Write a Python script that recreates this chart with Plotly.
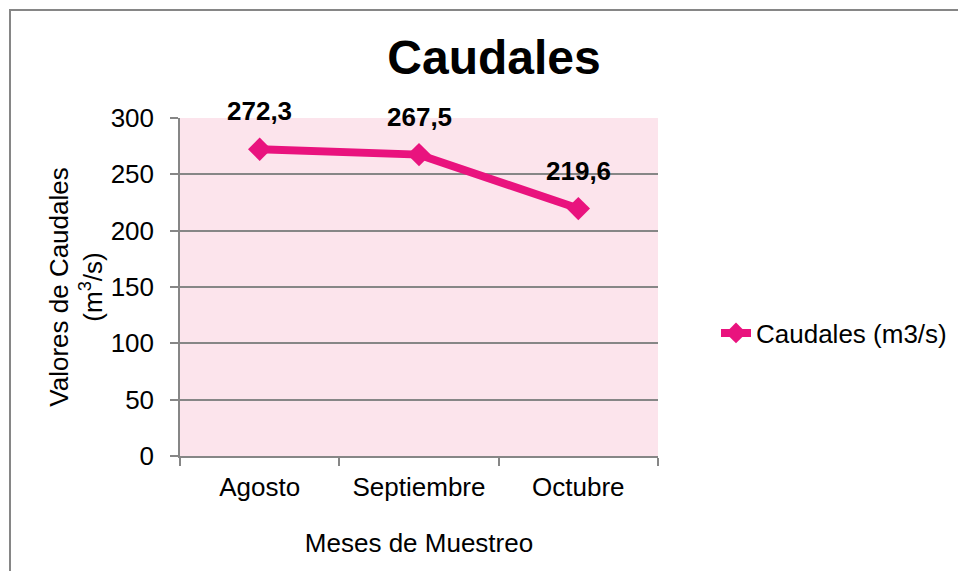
import plotly.graph_objects as go

categories = ["Agosto", "Septiembre", "Octubre"]
caudales = [272.3, 267.5, 219.6]
series_name = "Caudales (m3/s)"
y_ticks = [0, 50, 100, 150, 200, 250, 300]

OFF = 8  # page body margin
W, H = 966 - OFF, 571 - OFF
# plot area in screen pixels: x 180..658, y 118..456
L, T = 180 - OFF, 118 - OFF
R = W - (658 - OFF)
B = H - (456 - OFF)
pw, ph = W - L - R, H - T - B

def px_to_paper_x(px):
    return (px - OFF - L) / pw

def px_to_paper_y(py):
    return (H - B - (py - OFF)) / ph

FONT = "Liberation Sans, Arial, sans-serif"
PINK = "rgb(233,19,126)"
GRID = "rgb(134,134,134)"

fig = go.Figure()
fig.add_trace(go.Scatter(
    x=categories, y=caudales, name=series_name,
    mode="lines+markers",
    line=dict(color=PINK, width=8),
    marker=dict(symbol="diamond", size=18, color=PINK),
    showlegend=True,
))

for c, v in zip(categories, caudales):
    fig.add_annotation(
        x=c, y=v, xref="x", yref="y",
        text="<b>" + f"{v:.1f}".replace(".", ",") + "</b>",
        showarrow=False, yshift=38, xanchor="center", yanchor="middle",
        font=dict(family=FONT, size=26, color="black"),
    )

# outer chart border (left and top visible)
fig.add_shape(type="rect", xref="paper", yref="paper",
              x0=px_to_paper_x(10), x1=px_to_paper_x(990),
              y0=px_to_paper_y(600), y1=px_to_paper_y(10),
              line=dict(color="rgb(134,134,134)", width=2), layer="below")

fig.update_layout(
    width=W, height=H,
    margin=dict(l=L, r=R, t=T, b=B, autoexpand=False),
    paper_bgcolor="white",
    plot_bgcolor="rgb(252,228,236)",
    font=dict(family=FONT, size=26, color="black"),
    title=dict(text="<b>Caudales</b>", x=(494 - OFF) / W, xanchor="center",
               y=1 - (57 - OFF) / H, yanchor="middle", yref="container",
               font=dict(family=FONT, size=48, color="black")),
    showlegend=True,
    legend=dict(x=px_to_paper_x(716), xanchor="left", y=px_to_paper_y(333), yanchor="middle",
                font=dict(family=FONT, size=26, color="black"),
                bgcolor="rgba(0,0,0,0)", itemwidth=30, tracegroupgap=0),
    xaxis=dict(
        type="category", range=[-0.5, 2.5],
        showgrid=False, showline=True, linecolor=GRID, linewidth=1.5,
        ticks="outside", ticklen=8, tickcolor=GRID, tickwidth=1.5,
        tickson="boundaries",
        ticklabelstandoff=7,
        tickfont=dict(family=FONT, size=26, color="black"),
        title=dict(text="Meses de Muestreo", standoff=33,
                   font=dict(family=FONT, size=26, color="black")),
    ),
    yaxis=dict(
        range=[0, 300], tickvals=y_ticks,
        showgrid=True, gridcolor=GRID, gridwidth=1.5,
        showline=True, linecolor=GRID, linewidth=1.5,
        ticks="outside", ticklen=8, tickcolor=GRID, tickwidth=1.5,
        zeroline=False,
        ticklabelstandoff=11,
        tickfont=dict(family=FONT, size=26, color="black"),
        title=dict(text="Valores de Caudales<br>(m<sup>3</sup>/s)", standoff=1,
                   font=dict(family=FONT, size=26, color="black")),
    ),
)

fig.write_html("out.html")
